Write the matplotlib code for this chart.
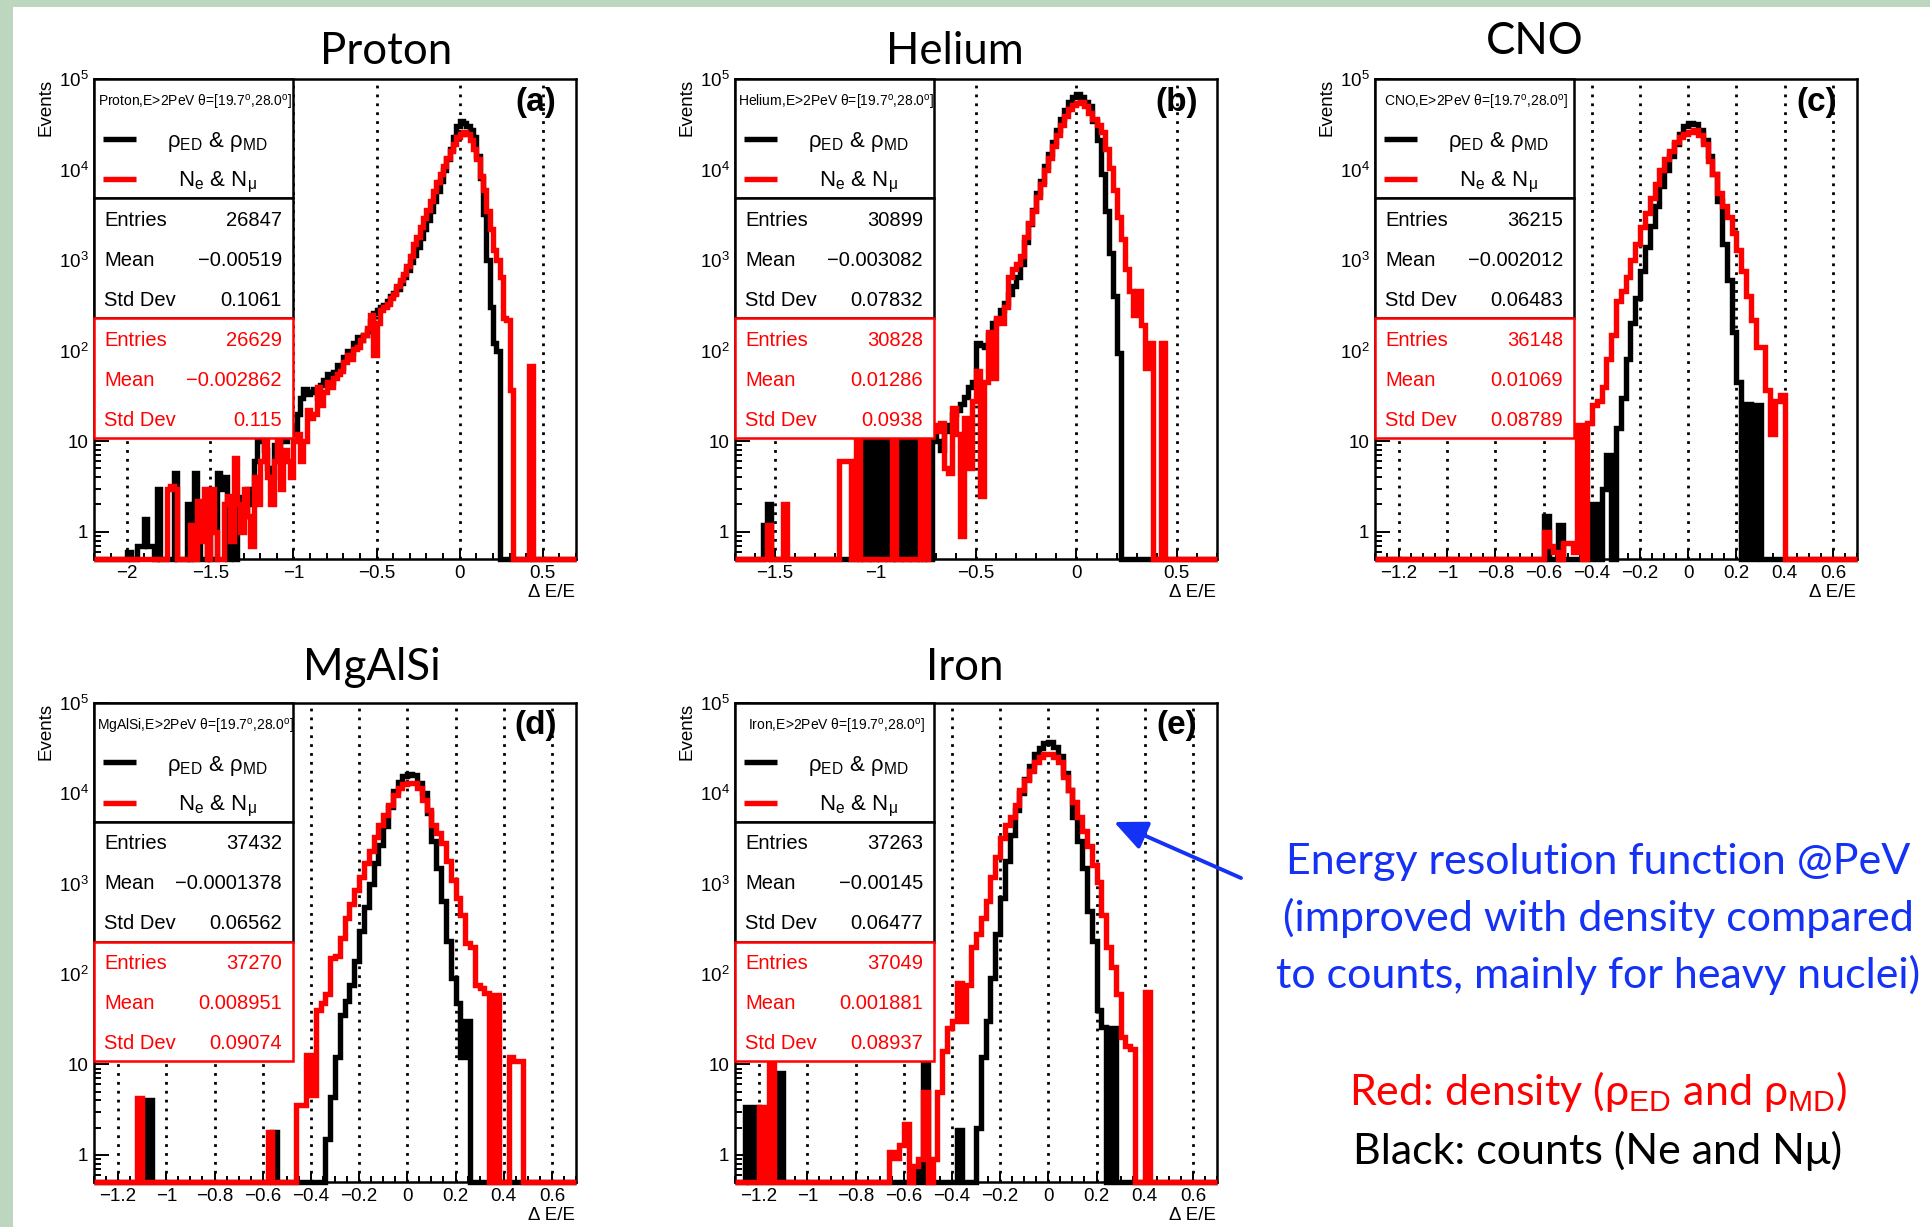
import numpy as np
import matplotlib
matplotlib.use("Agg")
import matplotlib.pyplot as plt
import matplotlib.ticker as mticker
from matplotlib.patches import Rectangle, FancyArrowPatch

plt.rcParams["font.family"] = ["Liberation Sans", "DejaVu Sans"]
plt.rcParams["mathtext.fontset"] = "custom"
plt.rcParams["mathtext.rm"] = "Liberation Sans"
plt.rcParams["mathtext.it"] = "Liberation Sans:italic"
plt.rcParams["mathtext.bf"] = "Liberation Sans:bold"

W_PX, H_PX = 1930, 1227
BIN = 0.02
YMIN, YMAX = 0.5, 1e5
RED = "#ff0000"
BLUE = "#1432f5"
SLIDE_TEXT = ["Lato", "DejaVu Sans"]
HIST_LW = 3.9

# ---- histogram contents, 0.02 wide bins starting at *_START ----
P_BLK_START = -2.00
P_BLK = [0.6, 0, 0, 0.7, 0.7, 1.4, 0.7, 0.7, 0, 3, 0, 0, 0, 0, 4.5, 0, 0, 0, 2, 0,
         4.5, 2, 0, 0, 1, 0, 0, 4.5, 3, 4, 0, 1, 0, 2, 2.4, 1.5, 3, 2, 6, 10,
         10, 8, 5, 4, 9, 7, 12, 10, 14, 14, 12, 20, 30, 38, 33, 35, 38, 30, 42, 48,
         55, 45, 58, 70, 65, 85, 100, 95, 120, 140, 130, 150, 165, 210, 260,
         280, 300, 320, 350, 400, 430, 480, 560, 650, 780, 950, 1150, 1400, 1750, 2200,
         2800, 3500, 4500, 5800, 7500, 10000, 13000, 17000, 23000, 30000,
         34000, 33000, 30000, 27000, 23000, 14000, 8000, 3200, 1000, 300, 120, 100]
P_RED_START = -1.80
P_RED = [0, 0, 3, 3.2, 3, 0, 0, 0, 0, 1.2, 0, 2.2, 0.8, 3, 0, 3, 1, 0, 0, 2,
         2.5, 0.8, 6.5, 2, 1, 3, 1.5, 0.7, 4, 2, 6, 15, 4, 2, 6, 10, 3, 8, 6, 4,
         10, 12, 6, 10, 22, 18, 20, 40, 25, 35, 45, 40, 50, 55, 60, 75, 90, 80, 105, 110,
         130, 150, 180, 250, 90, 200, 280, 300, 330, 380, 420, 520, 600, 700, 850,
         1100, 1500, 1800, 2300, 2900, 3600, 4500, 5800, 7200, 9000,
         11000, 13500, 16000, 19000, 23000, 25000, 26000, 25000, 21000, 17000,
         13000, 8500, 6000, 3500, 2200, 1300, 1000, 650, 230, 220, 37, 0, 0, 0, 0, 0, 68]

HE_BLK_START = -1.56
HE_BLK = [1.2, 2, 0] + [0] * 20 + \
         [0, 12, 0, 14, 0, 12, 0, 16, 0, 13, 0, 15, 0, 12, 0, 14, 0, 12, 0, 13,
          10, 8, 13, 15, 20, 22, 26, 31, 40, 45, 120, 115, 110, 150, 200,
          220, 280, 340, 420, 520, 650, 900, 1600, 2500, 3600,
          5500, 7500, 11000, 15000, 20000, 27000, 36000, 46000, 56000, 64000,
          68000, 63000, 56000, 50000, 34000, 21000, 9000, 3500, 1200, 400, 95]
HE_RED_START = -1.54
HE_RED = [1.2, 0, 0, 0, 2, 0, 0] + [0] * 10 + \
         [0, 6, 6, 6, 0, 15, 0, 0, 0, 0, 0, 0, 0, 0, 14, 0, 0, 0, 0, 0,
          0, 16, 0, 14, 15, 13, 16, 5, 4.5, 23, 12, 0.9, 18, 5, 28, 59, 2.5, 45, 160, 50,
          230, 200, 300, 650, 800, 900, 1100, 1800, 2600, 3500,
          5000, 7000, 10000, 13500, 18000, 24000, 31000, 39000, 47000, 52000,
          54000, 56000, 50000, 42000, 36000, 31000, 26000, 17000, 10500, 6000,
          3000, 1700, 800, 450, 250, 450, 190, 65, 120, 0, 0, 120]

CNO_BLK_START = -0.60
CNO_BLK = [1.5, 0, 0, 1.2, 0, 0, 0, 0, 0, 0, 2, 0, 3, 7, 0,
           14, 30, 80, 200, 380, 750, 1400, 2400, 4000, 6500,
           10000, 14000, 19000, 25000, 30000, 33000, 32000, 27000, 21000, 14000,
           9000, 4500, 1500, 600, 160, 45, 0, 26, 0, 25]
CNO_RED_START = -0.60
CNO_RED = [1.0, 0.7, 0.6, 0, 0.75, 0.75, 0.6, 15, 0, 16, 25, 28, 40, 80, 150,
           350, 450, 650, 1000, 1500, 2300, 3300, 4800, 7000, 10000,
           13000, 16000, 20000, 23000, 25000, 26000, 27000, 24000, 19000, 12500,
           9000, 5500, 4000, 3000, 2000, 1300, 750, 400, 220, 110, 110, 37, 12, 28, 32]

MG_BLK_START = -1.08
MG_BLK = [4, 0, 0, 0] + [0] * 20 + \
         [0, 0, 1.8, 0, 0, 0, 0, 0, 0, 0, 0, 0, 0, 1.5, 4.4,
          12, 35, 50, 75, 140, 300, 550, 1000, 1700, 2700,
          4300, 7000, 10500, 13500, 15500, 16500, 16000, 13000, 10000, 6000,
          3000, 1500, 650, 230, 90, 48, 12, 30]
MG_RED_START = -1.12
MG_RED = [4.2] + [0] * 25 + \
         [0, 1.8, 0, 0, 0, 0, 0, 3.6, 3.6, 12.6, 4.6, 40, 48, 60, 150,
          160, 250, 420, 600, 850, 1200, 1700, 2300, 3300, 4500,
          5700, 7500, 9500, 11500, 12800, 13000, 13000, 11500, 8500, 6500,
          4500, 3600, 2800, 1800, 1100, 700, 450, 220, 200, 75,
          70, 62, 0, 58, 0, 0, 12, 11, 11, 0]

FE_BLK_START = -1.26
FE_BLK = [3.4, 0, 3.4, 0, 0, 0, 0, 8] + [0] * 25 + \
         [0, 0, 0.7, 0, 15, 0, 0, 0, 0, 0, 0, 1.9, 0, 0, 0,
          2, 12, 30, 90, 280, 700, 1800, 3500, 6500, 10000,
          14500, 20000, 27000, 32000, 36000, 37000, 33000, 26000, 17000, 11000,
          5500, 3000, 1500, 500, 230, 40, 26, 0, 25]
FE_RED_START = -1.20
FE_RED = [3.4, 0, 15, 0, 0] + [0] * 20 + \
         [0, 0, 1.07, 0.93, 1.3, 2.2, 0, 0.75, 0.9, 5, 0, 0.9, 5, 14, 25,
          30, 80, 30, 75, 200, 280, 420, 650, 1200, 2000,
          3200, 4500, 5500, 7500, 11000, 14000, 17500, 22000, 25000, 27000,
          27000, 25000, 22000, 15000, 11000, 8000, 5500, 3800, 2600, 1600,
          1050, 450, 200, 120, 60, 20, 16, 15, 0, 0, 63]

# ---- stat boxes ----
NAMES = ["Proton", "Helium", "CNO", "MgAlSi", "Iron"]
LABELS = ["(a)", "(b)", "(c)", "(d)", "(e)"]
BLK_ENTRIES = ["26847", "30899", "36215", "37432", "37263"]
BLK_MEAN = ["\u22120.00519", "\u22120.003082", "\u22120.002012", "\u22120.0001378", "\u22120.00145"]
BLK_STD = ["0.1061", "0.07832", "0.06483", "0.06562", "0.06477"]
RED_ENTRIES = ["26629", "30828", "36148", "37270", "37049"]
RED_MEAN = ["\u22120.002862", "0.01286", "0.01069", "0.008951", "0.001881"]
RED_STD = ["0.115", "0.0938", "0.08789", "0.09074", "0.08937"]

XLIMS = [(-2.2, 0.7), (-1.7, 0.7), (-1.3, 0.7), (-1.3, 0.7), (-1.3, 0.7)]
XMAJ = [[-2, -1.5, -1, -0.5, 0, 0.5], [-1.5, -1, -0.5, 0, 0.5]] + \
       [[-1.2, -1, -0.8, -0.6, -0.4, -0.2, 0, 0.2, 0.4, 0.6]] * 3
XMIN_STEP = [0.1, 0.1, 0.05, 0.05, 0.05]
SERIES = [((P_BLK_START, P_BLK), (P_RED_START, P_RED)),
          ((HE_BLK_START, HE_BLK), (HE_RED_START, HE_RED)),
          ((CNO_BLK_START, CNO_BLK), (CNO_RED_START, CNO_RED)),
          ((MG_BLK_START, MG_BLK), (MG_RED_START, MG_RED)),
          ((FE_BLK_START, FE_BLK), (FE_RED_START, FE_RED))]

# axes boxes in pixels (left, top, right, bottom) and title centres
AX_PX = [(94, 79, 576, 559), (735, 79, 1217, 559), (1375, 79, 1857, 559),
         (94, 703, 576, 1182), (735, 703, 1217, 1182)]
TITLE_PX = [(386, 52), (955, 52), (1535, 42), (372, 668), (965, 668)]


def fx(x):
    return x / W_PX


def fy(y):
    return 1 - y / H_PX


def tick_text(v):
    return f"{v:g}".replace("-", "\u2212")


def to_bins(start, vals, lo, n):
    arr = np.zeros(n)
    i0 = int(round((start - lo) / BIN))
    arr[i0:i0 + len(vals)] = vals
    return np.where(arr > 0, arr, YMIN)


fig = plt.figure(figsize=(W_PX / 100, H_PX / 100), dpi=100)
fig.patch.set_facecolor("white")
fig.patches.append(Rectangle((0, 0), fx(13), 1, transform=fig.transFigure,
                             fc="#bcd7bd", ec="none", zorder=0))
fig.patches.append(Rectangle((0, fy(7)), 1, 7 / H_PX, transform=fig.transFigure,
                             fc="#bcd7bd", ec="none", zorder=0))

BOX_W = 0.413
for i in range(5):
    l, t, r, b = AX_PX[i]
    ax = fig.add_axes([fx(l), fy(b), (r - l) / W_PX, (b - t) / H_PX])
    lo, hi = XLIMS[i]
    n = int(round((hi - lo) / BIN))
    edges = lo + BIN * np.arange(n + 1)

    ax.set_yscale("log")
    ax.set_xlim(lo, hi)
    ax.set_ylim(YMIN, YMAX)

    for xt in XMAJ[i]:
        ax.axvline(xt, color="k", lw=2.0, ls=(0, (1, 2.2)), zorder=1)

    for (start, vals), col in zip(SERIES[i], ["black", RED]):
        ax.stairs(to_bins(start, vals, lo, n), edges, baseline=None, color=col,
                  lw=HIST_LW, zorder=3, clip_on=False, joinstyle="miter")

    ax.xaxis.set_major_locator(mticker.FixedLocator(XMAJ[i]))
    ax.xaxis.set_major_formatter(mticker.FixedFormatter([tick_text(v) for v in XMAJ[i]]))
    ax.xaxis.set_minor_locator(mticker.MultipleLocator(XMIN_STEP[i]))
    ax.yaxis.set_major_locator(mticker.FixedLocator([1, 10, 1e2, 1e3, 1e4, 1e5]))
    ax.yaxis.set_major_formatter(mticker.FixedFormatter(
        ["1", "10", "$10^{2}$", "$10^{3}$", "$10^{4}$", "$10^{5}$"]))
    ax.yaxis.set_minor_locator(mticker.LogLocator(base=10, subs=np.arange(2, 10), numticks=30))
    ax.yaxis.set_minor_formatter(mticker.NullFormatter())
    ax.tick_params(axis="x", which="major", direction="in", length=7, width=1.4,
                   top=False, labelsize=13.5, pad=4)
    ax.tick_params(axis="x", which="minor", direction="in", length=4, width=1.4, top=False)
    ax.tick_params(axis="y", which="major", direction="in", length=11, width=1.4,
                   right=False, labelsize=13.5, pad=4)
    ax.tick_params(axis="y", which="minor", direction="in", length=5, width=1.4, right=False)
    for s in ax.spines.values():
        s.set_linewidth(1.8)

    ax.text(-0.10, 1.0, "Events", transform=ax.transAxes, rotation=90,
            ha="center", va="top", fontsize=13.5)
    ax.text(0.997, -0.069, "\u0394 E/E", transform=ax.transAxes,
            ha="right", va="center", fontsize=13.5)
    ax.text(0.917, 0.952, LABELS[i], transform=ax.transAxes, ha="center",
            va="center", fontsize=24, fontweight="bold", zorder=8)

    # legend + two stat boxes
    ax.add_patch(Rectangle((0, 0.752), BOX_W, 0.248, transform=ax.transAxes, fc="white",
                           ec="black", lw=1.8, zorder=5, clip_on=False))
    ax.add_patch(Rectangle((0, 0.502), BOX_W, 0.25, transform=ax.transAxes, fc="white",
                           ec="black", lw=1.8, zorder=5, clip_on=False))
    ax.add_patch(Rectangle((0, 0.252), BOX_W, 0.25, transform=ax.transAxes, fc="white",
                           ec=RED, lw=1.8, zorder=6, clip_on=False))

    ax.text(BOX_W / 2 + 0.004, 0.951,
            NAMES[i] + r",E>2PeV θ=[19.7$^{\mathrm{o}}$,28.0$^{\mathrm{o}}$]",
            transform=ax.transAxes, ha="center", va="center", fontsize=10, zorder=8)
    ax.plot([0.018, 0.088], [0.876, 0.876], transform=ax.transAxes, color="black",
            lw=HIST_LW, solid_capstyle="butt", zorder=8)
    ax.plot([0.018, 0.088], [0.792, 0.792], transform=ax.transAxes, color=RED,
            lw=HIST_LW, solid_capstyle="butt", zorder=8)
    ax.text(0.255, 0.868, r"ρ$_{\mathrm{ED}}$ & ρ$_{\mathrm{MD}}$", transform=ax.transAxes,
            ha="center", va="center", fontsize=16, zorder=8)
    ax.text(0.255, 0.785, r"N$_{\mathrm{e}}$ & N$_{\mathrm{\mu}}$", transform=ax.transAxes,
            ha="center", va="center", fontsize=16, zorder=8)

    rows_b = [("Entries", BLK_ENTRIES[i]), ("Mean", BLK_MEAN[i]), ("Std Dev", BLK_STD[i])]
    rows_r = [("Entries", RED_ENTRIES[i]), ("Mean", RED_MEAN[i]), ("Std Dev", RED_STD[i])]
    for top, rows, col in [(0.752, rows_b, "black"), (0.502, rows_r, RED)]:
        for k, (name, val) in enumerate(rows):
            yy = top - (22 + 40 * k) / 480
            ax.text(0.021, yy, name, transform=ax.transAxes, ha="left", va="center",
                    fontsize=14.5, color=col, zorder=8)
            ax.text(0.39, yy, val, transform=ax.transAxes, ha="right", va="center",
                    fontsize=14.5, color=col, zorder=8)

    tx, ty = TITLE_PX[i]
    fig.text(fx(tx), fy(ty), NAMES[i], ha="center", va="center", fontsize=31.5,
             family=SLIDE_TEXT)

# annotation on the right
NOTE_FS = 31
NOTE_X = 1598
fig.text(fx(NOTE_X), fy(862), "Energy resolution function @PeV", color=BLUE,
         ha="center", va="center", fontsize=NOTE_FS, family=SLIDE_TEXT)
fig.text(fx(NOTE_X), fy(918), "(improved with density compared", color=BLUE,
         ha="center", va="center", fontsize=NOTE_FS, family=SLIDE_TEXT)
fig.text(fx(NOTE_X), fy(975), "to counts, mainly for heavy nuclei)", color=BLUE,
         ha="center", va="center", fontsize=NOTE_FS, family=SLIDE_TEXT)
fig.text(fx(NOTE_X), fy(1091), r"Red: density (ρ$_{\mathrm{ED}}$ and ρ$_{\mathrm{MD}}$)",
         color=RED, ha="center", va="center", fontsize=NOTE_FS, family=SLIDE_TEXT)
fig.text(fx(NOTE_X), fy(1151), "Black: counts (Ne and N\u03bc)", color="black",
         ha="center", va="center", fontsize=NOTE_FS, family=SLIDE_TEXT)

fig.patches.append(FancyArrowPatch((fx(1241), fy(878)), (fx(1114), fy(822)),
                                   transform=fig.transFigure, color=BLUE, lw=2.8,
                                   arrowstyle="-|>,head_length=1.0,head_width=0.45",
                                   mutation_scale=20, shrinkA=0, shrinkB=0))

fig.savefig("out.png", dpi=100)
